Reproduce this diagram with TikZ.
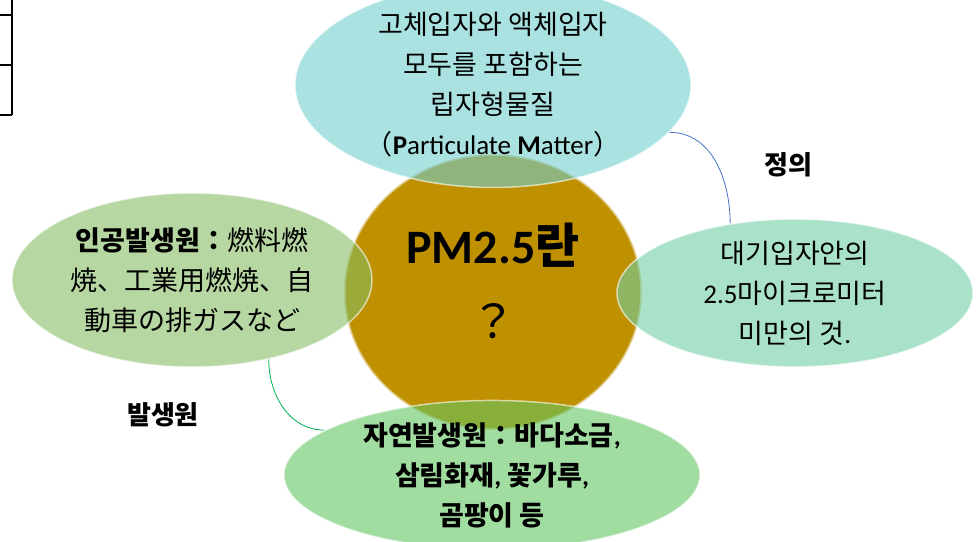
\documentclass[tikz,border=0pt]{standalone}
\usepackage{fontspec}
\setmainfont{Noto Sans CJK KR}
\newfontfamily\lat{Carlito}
\newfontfamily\jp{Noto Sans CJK JP}
\usetikzlibrary{shapes.geometric}

\definecolor{gold}{RGB}{191,144,0}
\definecolor{bubcyan}{RGB}{113,207,207}
\definecolor{bubmint}{RGB}{112,207,165}
\definecolor{bubleaf}{RGB}{133,188,98}
\definecolor{bubgreen}{RGB}{98,197,97}
\definecolor{linkblue}{RGB}{68,114,196}
\definecolor{linkgreen}{RGB}{0,176,80}

\begin{document}
\begin{tikzpicture}[x=1pt,y=1pt,
    bubble/.style={ellipse, inner sep=0pt, draw=white, line width=1.5pt,
      draw opacity=0.6, fill opacity=0.6, text opacity=1, align=center,
      font=\fontsize{27}{40}\selectfont},
    hub/.style={ellipse, inner sep=0pt, fill=gold, draw=gold!50!white,
      line width=1.5pt, align=center, minimum width=296pt, minimum height=274pt},
    tag/.style={font=\fontsize{26}{30}\selectfont\bfseries}]
  \clip (0,0) rectangle (977,541);

  % Table edge
  \draw[line width=2pt] (12,541) -- (12,426);
  \draw[line width=2pt] (0,526) -- (12,526);
  \draw[line width=2pt] (0,476) -- (12,476);
  \draw[line width=2pt] (0,426) -- (12,426);

  % Centre circle
  \node[hub] (pm) at (493,249) {};
  \node[font=\fontsize{48}{52}\selectfont\bfseries] (title) at (493,296) {{\lat PM2.5}란};
  \node[font=\fontsize{46}{50}\selectfont] (quest) at (493,220) {？};

  % Definition
  \node[bubble, fill=bubcyan, minimum width=396pt, minimum height=144pt] (def) at (493,456)
    {고체입자와 액체입자\\모두를 포함하는\\립자형물질\\（{\lat\textbf{P}articulate \textbf{M}atter}）};
  \node[bubble, fill=bubmint, minimum width=356pt, minimum height=146pt] (size) at (795,248)
    {대기입자안의\\{\lat 2.5}마이크로미터\\미만의 것{\lat .}};

  % Sources
  \node[bubble, fill=bubleaf, minimum width=360pt, minimum height=174pt] (manmade) at (192,261)
    {\textbf{인공발생원：}{\jp 燃料燃}\\{\jp 焼、工業用燃焼、自}\\{\jp 動車の排ガスなど}};
  \node[bubble, fill=bubgreen, minimum width=416pt, minimum height=140pt] (natural) at (492,66)
    {\textbf{자연발생원：바다소금{\lat ,}}\\\textbf{삼림화재{\lat ,} 꽃가루{\lat ,}}\\\textbf{곰팡이 등}};

  % Labels
  \node[tag] (deftag) at (788,376) {정의};
  \node[tag] (srctag) at (163,126) {발생원};

  % Links
  \draw[linkblue, line width=0.8pt] (def.-15) to[out=0, in=90] (size.133);
  \draw[linkgreen, line width=0.8pt] (manmade.-46) to[out=-90, in=180] (natural.165);
\end{tikzpicture}
\end{document}
